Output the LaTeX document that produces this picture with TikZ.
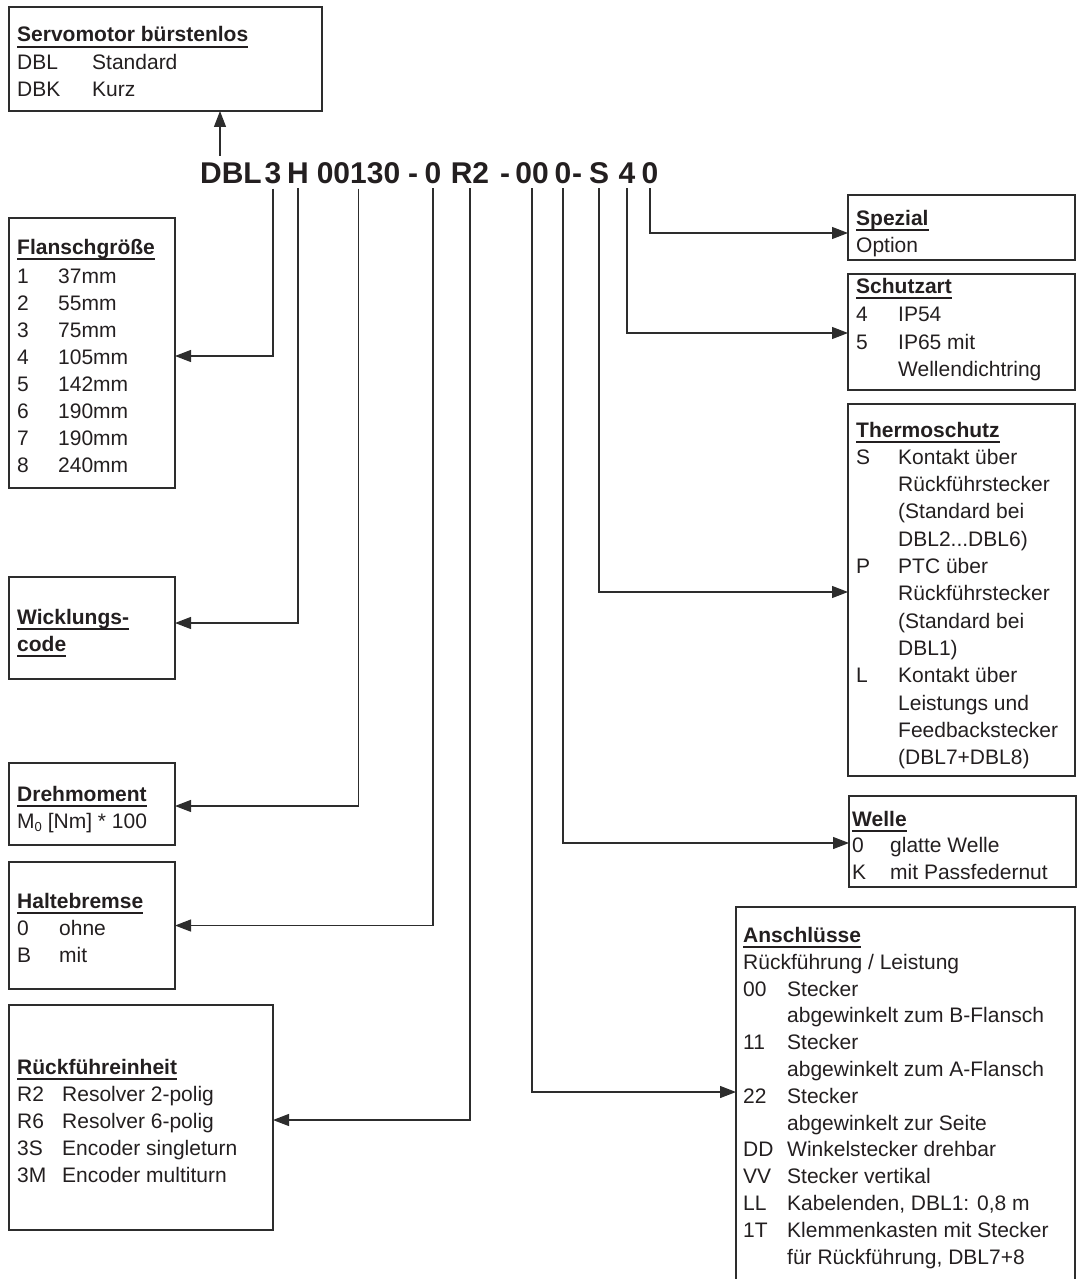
\documentclass[tikz,border=0pt]{standalone}
\usepackage{fontspec}
\setmainfont{Liberation Sans}
\usetikzlibrary{arrows.meta}
\definecolor{textc}{RGB}{35,31,32}
\definecolor{linec}{RGB}{45,45,45}
\newcommand\ultitle[1]{\setbox0=\hbox{#1}\rlap{\rule[-5.8pt]{\wd0}{1.4pt}}\box0}
\begin{document}
\begin{tikzpicture}[x=1pt,y=-1pt,
 box/.style={draw=linec,line width=1.2pt,inner sep=0pt,outer sep=0pt,anchor=north west},
 tx/.style={anchor=base west,inner sep=0pt,text=textc,font=\fontsize{21}{25}\selectfont},
 ttl/.style={anchor=base west,inner sep=0pt,text=textc,font=\fontsize{21}{25}\selectfont\bfseries},
 codepart/.style={anchor=base,inner sep=0pt,text=textc,font=\fontsize{30}{30}\selectfont\bfseries},
 arr/.style={draw=linec,line width=1.2pt,-{Triangle[length=16pt,width=12pt]}},
 ln/.style={draw=linec,line width=1.2pt}]
\useasboundingbox (0,0) rectangle (1083,1279);
\clip (0,0) rectangle (1083,1279);

% ---------- boxes ----------
\node[box,minimum width=313pt,minimum height=104pt] (servo) at (9,7) {};
\node[box,minimum width=166pt,minimum height=270pt] (flansch) at (9,218) {};
\node[box,minimum width=166pt,minimum height=102pt] (wick) at (9,577) {};
\node[box,minimum width=166pt,minimum height=82pt] (dreh) at (9,763) {};
\node[box,minimum width=166pt,minimum height=127pt] (halte) at (9,862) {};
\node[box,minimum width=264pt,minimum height=225pt] (rueck) at (9,1005) {};
\node[box,minimum width=227pt,minimum height=65pt] (spez) at (848,195) {};
\node[box,minimum width=227pt,minimum height=116pt] (schutz) at (848,274) {};
\node[box,minimum width=227pt,minimum height=372pt] (thermo) at (848,404) {};
\node[box,minimum width=227pt,minimum height=91pt] (welle) at (849,796) {};
\node[box,minimum width=339pt,minimum height=420pt] (ansch) at (736,907) {};

% ---------- type code ----------
\node[codepart] (cDBL) at (231,183) {DBL};
\node[codepart] (c3) at (273,183) {3};
\node[codepart] (cH) at (298,183) {H};
\node[codepart] (cM) at (358.5,183) {00130};
\node[codepart] (cd1) at (413,183) {-};
\node[codepart] (cB) at (433,183) {0};
\node[codepart] (cR) at (470,183) {R2};
\node[codepart] (cd2) at (505,183) {-};
\node[codepart] (cA) at (532,183) {00};
\node[codepart] (cW) at (563,183) {0};
\node[codepart] (cd3) at (577,183) {-};
\node[codepart] (cS) at (599,183) {S};
\node[codepart] (c4) at (627,183) {4};
\node[codepart] (cO) at (650,183) {0};

% ---------- connectors ----------
\draw[arr] ([xshift=-11pt,yshift=6.5pt]cDBL.north) -- ([xshift=-11pt]cDBL.north |- servo.south);
\draw[arr] ([yshift=-5pt]c3.south) |- ([yshift=-3pt]flansch.east);
\draw[arr] ([yshift=-5pt]cH.south) |- ([yshift=5pt]wick.east);
\draw[arr] ([yshift=-5pt]cM.south) |- ([yshift=-2pt]dreh.east);
\draw[arr] ([yshift=-5pt]cB.south) |- (halte.east);
\draw[arr] ([yshift=-5pt]cR.south) |- ([yshift=-2.5pt]rueck.east);
\draw[arr] ([yshift=-5pt]cA.south) |- ([yshift=-185pt]ansch.north west);
\draw[arr] ([yshift=-5pt]cW.south) |- ([yshift=-1.5pt]welle.west);
\draw[arr] ([yshift=-5pt]cS.south) |- ([yshift=-2pt]thermo.west);
\draw[arr] ([yshift=-5pt]c4.south) |- ([yshift=-1pt]schutz.west);
\draw[arr] ([yshift=-5pt]cO.south) |- ([yshift=-5.5pt]spez.west);

% ---------- Servomotor ----------
\node[ttl] (s0) at (17,42) {\ultitle{Servomotor bürstenlos}};
\node[tx] (s1a) at (17,70) {DBL};
\node[tx] (s1b) at (92,70) {Standard};
\node[tx] (s2a) at (17,97) {DBK};
\node[tx] (s2b) at (92,97) {Kurz};

% ---------- Flanschgroesse ----------
\node[ttl] (f0) at (17,254) {\ultitle{Flanschgröße}};
\foreach \k/\a/\b in {0/1/37mm,1/2/55mm,2/3/75mm,3/4/105mm,4/5/142mm,5/6/190mm,6/7/190mm,7/8/240mm}{
  \node[tx] (fa\k) at (17,283+27.14*\k) {\a};
  \node[tx] (fb\k) at (58,283+27.14*\k) {\b};
}

% ---------- Wicklungscode ----------
\node[ttl] (w0) at (17,624) {\ultitle{Wicklungs-}};
\node[ttl] (w1) at (17,651) {\ultitle{code}};

% ---------- Drehmoment ----------
\node[ttl] (d0) at (17,801) {\ultitle{Drehmoment}};
\node[tx] (d1) at (17,828) {M\raisebox{-3.5pt}{\fontsize{13}{13}\selectfont 0} [Nm] * 100};

% ---------- Haltebremse ----------
\node[ttl] (h0) at (17,908) {\ultitle{Haltebremse}};
\node[tx] (h1a) at (17,935) {0};
\node[tx] (h1b) at (59,935) {ohne};
\node[tx] (h2a) at (17,962) {B};
\node[tx] (h2b) at (59,962) {mit};

% ---------- Rueckfuehreinheit ----------
\node[ttl] (r0) at (17,1074) {\ultitle{Rückführeinheit}};
\foreach \k/\a/\b in {0/R2/Resolver 2-polig,1/R6/Resolver 6-polig,2/3S/Encoder singleturn,3/3M/Encoder multiturn}{
  \node[tx] (ra\k) at (17,1101+27.2*\k) {\a};
  \node[tx] (rb\k) at (62,1101+27.2*\k) {\b};
}

% ---------- Spezial ----------
\node[ttl] (sp0) at (856,225) {\ultitle{Spezial}};
\node[tx] (sp1) at (856,252) {Option};

% ---------- Schutzart ----------
\node[ttl] (sc0) at (856,293) {\ultitle{Schutzart}};
\node[tx] (sc1a) at (856,321) {4};
\node[tx] (sc1b) at (898,321) {IP54};
\node[tx] (sc2a) at (856,349) {5};
\node[tx] (sc2b) at (898,349) {IP65 mit};
\node[tx] (sc3b) at (898,376) {Wellendichtring};

% ---------- Thermoschutz ----------
\node[ttl] (th0) at (856,437) {\ultitle{Thermoschutz}};
\node[tx] (thS) at (856,464.3) {S};
\node[tx] (thP) at (856,573.5) {P};
\node[tx] (thL) at (856,682.7) {L};
\node[tx] (tb0) at (898,464.3) {Kontakt über};
\node[tx] (tb1) at (898,491.6) {Rückführstecker};
\node[tx] (tb2) at (898,518.9) {(Standard bei};
\node[tx] (tb3) at (898,546.2) {DBL2...DBL6)};
\node[tx] (tb4) at (898,573.5) {PTC über};
\node[tx] (tb5) at (898,600.8) {Rückführstecker};
\node[tx] (tb6) at (898,628.1) {(Standard bei};
\node[tx] (tb7) at (898,655.4) {DBL1)};
\node[tx] (tb8) at (898,682.7) {Kontakt über};
\node[tx] (tb9) at (898,710.0) {Leistungs und};
\node[tx] (tb10) at (898,737.3) {Feedbackstecker};
\node[tx] (tb11) at (898,764.6) {(DBL7+DBL8)};

% ---------- Welle ----------
\node[ttl] (we0) at (852,826) {\ultitle{Welle}};
\node[tx] (we1a) at (852,852) {0};
\node[tx] (we1b) at (890,852) {glatte Welle};
\node[tx] (we2a) at (852,879) {K};
\node[tx] (we2b) at (890,879) {mit Passfedernut};

% ---------- Anschluesse ----------
\node[ttl] (an0) at (743,942) {\ultitle{Anschlüsse}};
\node[tx] (an1) at (743,969) {Rückführung / Leistung};
\foreach \k/\a/\b in {0/00/Stecker,1//abgewinkelt zum B-Flansch,2/11/Stecker,3//abgewinkelt zum A-Flansch,4/22/Stecker,5//abgewinkelt zur Seite,6/DD/Winkelstecker drehbar,7/VV/Stecker vertikal,8/LL/{Kabelenden, DBL1: 0,8 m},9/1T/Klemmenkasten mit Stecker,10//{für Rückführung, DBL7+8}}{
  \node[tx] (aa\k) at (743,996+26.8*\k) {\a};
  \node[tx] (ab\k) at (787,996+26.8*\k) {\b};
}
\end{tikzpicture}
\end{document}
